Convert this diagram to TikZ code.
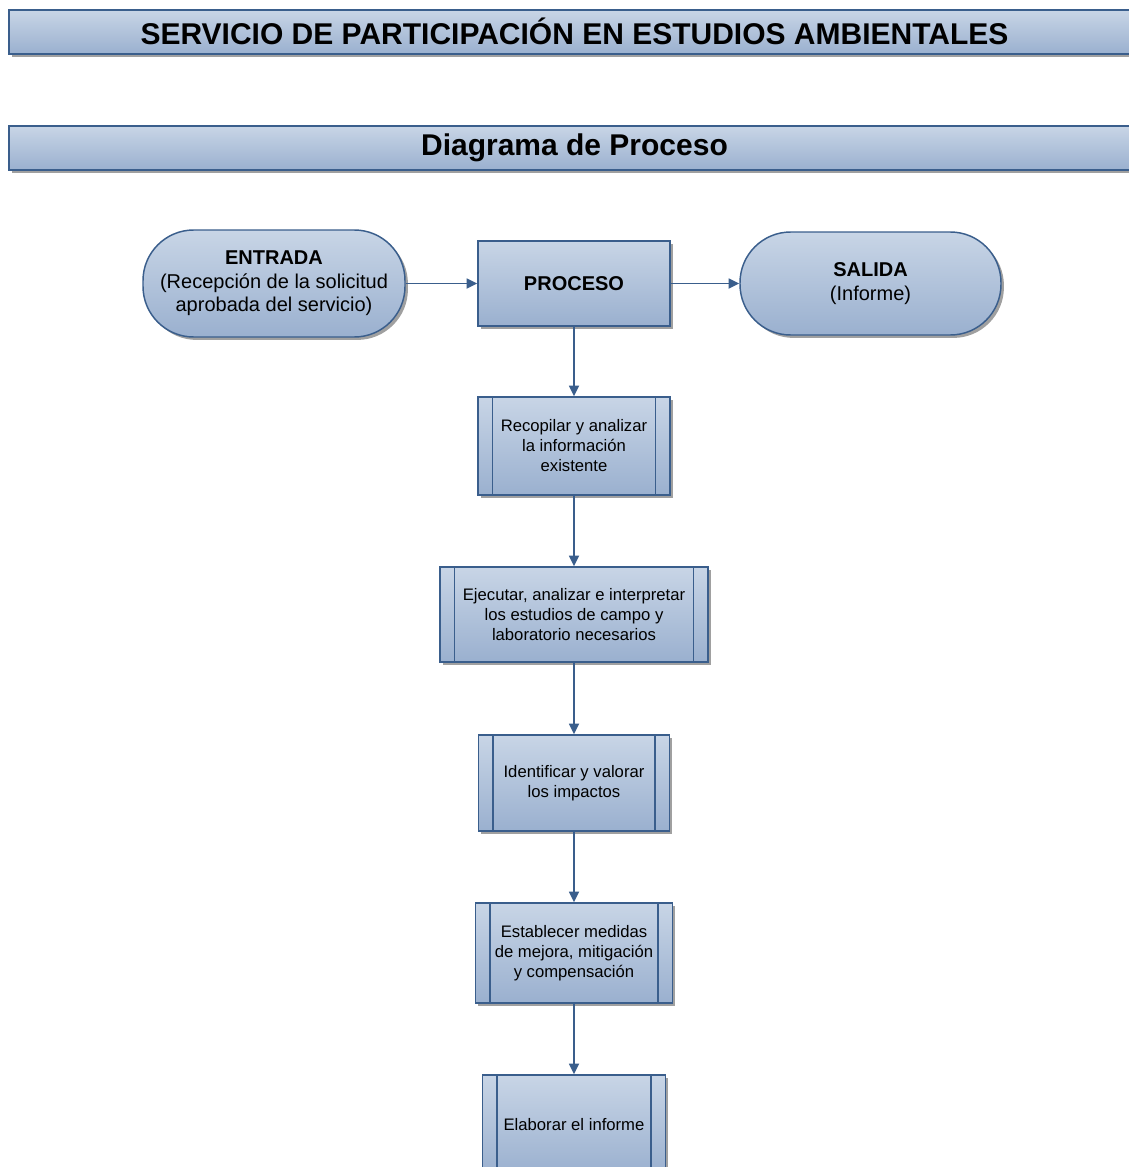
\documentclass[tikz,border=0pt]{standalone}
\usepackage{fontspec}
\setmainfont{Liberation Sans}
\usetikzlibrary{shadows,arrows.meta}
\definecolor{boxtop}{HTML}{C8D5E6}
\definecolor{boxbot}{HTML}{9AB0CF}
\definecolor{edge}{HTML}{3A5E8C}
\definecolor{shade}{HTML}{A0A0A0}
\tikzset{
  size/.style 2 args={minimum width={#1*0.75pt}, minimum height={#2*0.75pt}},
  shape base/.style={draw=edge, line width=1.1pt, top color=boxtop, bottom color=boxbot,
    drop shadow={shadow xshift=2.2pt, shadow yshift=-2.2pt, fill=shade, opacity=1},
    align=center, inner sep=0pt, text=black},
  titlebar/.style={shape base, font=\bfseries\fontsize{22.5}{26}\selectfont},
  terminal/.style={shape base, rounded corners=38pt, font=\fontsize{15}{17.5}\selectfont},
  procbox/.style={shape base, font=\bfseries\fontsize{15}{17.5}\selectfont},
  subproc/.style={shape base, font=\fontsize{12.5}{15}\selectfont,
    path picture={
      \draw[edge, line width=1.1pt]
        ([xshift=11pt]path picture bounding box.north west) --
        ([xshift=11pt]path picture bounding box.south west);
      \draw[edge, line width=1.1pt]
        ([xshift=-11pt]path picture bounding box.north east) --
        ([xshift=-11pt]path picture bounding box.south east);
    }},
  arr/.style={draw=edge, line width=1.3pt, -{Triangle[length=8pt,width=7.5pt]}}
}
\begin{document}
\begin{tikzpicture}[x=0.75pt,y=-0.75pt]
\useasboundingbox (0,0) rectangle (1128,1167);

% header bars
\node[titlebar, size={1131}{44}] (titulo) at (574.5,32)
  {\raisebox{1.5pt}{SERVICIO DE PARTICIPACIÓN EN ESTUDIOS AMBIENTALES}};
\node[titlebar, size={1131}{44}] (subtitulo) at (574.5,148)
  {Diagrama de Proceso};

% input / process / output
\node[terminal, size={262}{107}] (entrada) at (274,283.5)
  {\textbf{ENTRADA}\\(Recepción de la solicitud\\aprobada del servicio)};
\node[procbox, size={192}{85}] (proceso) at (574,283.5) {PROCESO};
\node[terminal, size={261}{103}] (salida) at (870.5,283.5)
  {\textbf{SALIDA}\\(Informe)};

% process steps
\node[subproc, size={192}{98}] (paso1) at (574,446)
  {Recopilar y analizar\\la información\\existente};
\node[subproc, size={268}{95}] (paso2) at (574,614.5)
  {Ejecutar, analizar e interpretar\\los estudios de campo y\\laboratorio necesarios};
\node[subproc, size={191}{96}] (paso3) at (574,783)
  {Identificar y valorar\\los impactos};
\node[subproc, size={197}{100}] (paso4) at (574,953)
  {Establecer medidas\\de mejora, mitigación\\y compensación};
\node[subproc, size={183}{100}] (paso5) at (574,1125)
  {Elaborar el informe};

% connectors
\draw[arr] (entrada) -- (proceso);
\draw[arr] (proceso) -- (salida);
\draw[arr] (proceso) -- (paso1);
\draw[arr] (paso1) -- (paso2);
\draw[arr] (paso2) -- (paso3);
\draw[arr] (paso3) -- (paso4);
\draw[arr] (paso4) -- (paso5);
\end{tikzpicture}
\end{document}
